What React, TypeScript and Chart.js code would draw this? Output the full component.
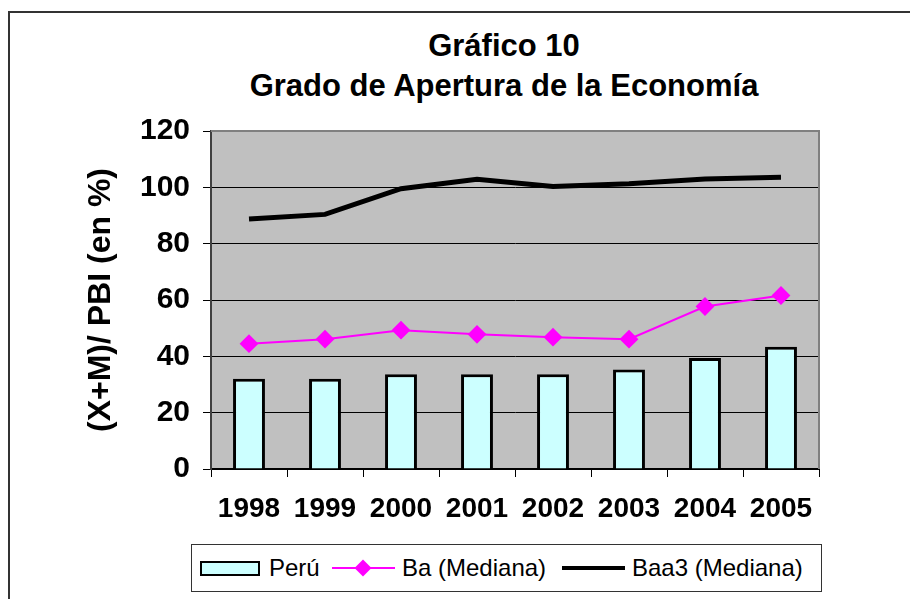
import React, { useEffect, useRef } from "react";
import { Chart, registerables } from "chart.js";

Chart.register(...registerables);

const categories = ["1998", "1999", "2000", "2001", "2002", "2003", "2004", "2005"];
const peru = [32.0, 32.0, 33.6, 33.6, 33.6, 35.3, 39.4, 43.4];
const baMediana = [44.5, 46.1, 49.3, 47.8, 46.8, 46.1, 57.7, 61.6];
const baa3Mediana = [88.8, 90.4, 99.5, 102.9, 100.3, 101.3, 103.0, 103.6];
const yTicks = [0, 20, 40, 60, 80, 100, 120];

const titleLines = ["Gráfico 10", "Grado de Apertura de la Economía"];
const yTitle = "(X+M)/ PBI (en %)";
const seriesNames = ["Perú", "Ba (Mediana)", "Baa3 (Mediana)"];

const FONT = '"Liberation Sans", Arial, Helvetica, sans-serif';

const plotBg = {
  id: "plotBg",
  beforeDraw(chart: any) {
    const { ctx, chartArea: a } = chart;
    ctx.save();
    ctx.fillStyle = "#C0C0C0";
    ctx.fillRect(a.left, a.top, a.right - a.left, a.bottom - a.top);
    ctx.restore();
  },
  afterDraw(chart: any) {
    const { ctx, chartArea: a } = chart;
    ctx.save();
    ctx.strokeStyle = "#808080";
    ctx.lineWidth = 2;
    ctx.beginPath();
    ctx.moveTo(a.left, a.top);
    ctx.lineTo(a.right, a.top);
    ctx.lineTo(a.right, a.bottom);
    ctx.stroke();
    ctx.restore();
  },
};

export default function App() {
  const ref = useRef<HTMLCanvasElement | null>(null);

  useEffect(() => {
    if (!ref.current) return;
    const chart = new Chart(ref.current, {
      type: "bar",
      data: {
        labels: categories,
        datasets: [
          {
            type: "line",
            label: seriesNames[2],
            data: baa3Mediana,
            borderColor: "#000000",
            borderWidth: 5,
            pointRadius: 0,
            tension: 0,
            order: 0,
          } as any,
          {
            type: "line",
            label: seriesNames[1],
            data: baMediana,
            borderColor: "#FF00FF",
            backgroundColor: "#FF00FF",
            borderWidth: 2,
            pointStyle: "rectRot",
            pointRadius: 8,
            pointBackgroundColor: "#FF00FF",
            pointBorderColor: "#FF00FF",
            tension: 0,
            order: 1,
          } as any,
          {
            type: "bar",
            label: seriesNames[0],
            data: peru,
            backgroundColor: "#CCFFFF",
            borderColor: "#000000",
            borderWidth: 3,
            barPercentage: 0.42,
            categoryPercentage: 1,
            order: 2,
          },
        ],
      },
      options: {
        animation: false,
        responsive: true,
        maintainAspectRatio: false,
        layout: { padding: { top: 131, right: 91, left: 0, bottom: 0 } },
        plugins: {
          legend: { display: false },
          title: { display: false },
          tooltip: { enabled: false },
        },
        scales: {
          x: {
            afterFit: (s: any) => {
              s.height = 130;
            },
            grid: {
              offset: true,
              drawOnChartArea: false,
              drawTicks: true,
              tickLength: 8,
              tickColor: "#000",
              color: "#000",
            },
            border: { color: "#000", width: 2 },
            ticks: {
              color: "#000",
              padding: 15,
              font: { family: FONT, size: 28, weight: "bold" },
              maxRotation: 0,
            },
          },
          y: {
            min: 0,
            max: 120,
            afterFit: (s: any) => {
              s.width = 211;
            },
            afterBuildTicks: (s: any) => {
              s.ticks = yTicks.map((v) => ({ value: v }));
            },
            grid: {
              color: "#000",
              lineWidth: 1,
              tickLength: 8,
              tickColor: "#000",
            },
            border: { color: "#404040", width: 2 },
            ticks: {
              color: "#000",
              padding: 13,
              font: { family: FONT, size: 30, weight: "bold" },
            },
            title: {
              display: true,
              text: yTitle,
              color: "#000",
              font: { family: FONT, size: 32, weight: "bold" },
              padding: { top: 82, bottom: 0 },
            },
          },
        },
      },
      plugins: [plotBg],
    });
    return () => chart.destroy();
  }, []);

  const legendText: React.CSSProperties = {
    position: "absolute",
    top: 554,
    height: 28,
    lineHeight: "28px",
    fontFamily: FONT,
    fontSize: 24,
    color: "#000",
    whiteSpace: "nowrap",
  };

  return (
    <div
      style={{
        position: "fixed",
        left: 0,
        top: 0,
        width: 910,
        height: 599,
        background: "#fff",
        overflow: "hidden",
      }}
    >
      <div
        style={{
          position: "absolute",
          left: 8,
          top: 11,
          width: 1000,
          height: 700,
          borderLeft: "2px solid #333",
          borderTop: "2px solid #333",
        }}
      />
      {titleLines.map((t, i) => (
        <div
          key={i}
          style={{
            position: "absolute",
            left: 0,
            width: 1008,
            top: 26 + i * 40,
            height: 40,
            lineHeight: "40px",
            textAlign: "center",
            fontFamily: FONT,
            fontWeight: "bold",
            fontSize: 31,
            color: "#000",
            whiteSpace: "nowrap",
          }}
        >
          {t}
        </div>
      ))}
      <div style={{ position: "absolute", left: 0, top: 0, width: 910, height: 599 }}>
        <canvas ref={ref} />
      </div>
      <div
        style={{
          position: "absolute",
          left: 191,
          top: 544,
          width: 631,
          height: 48,
          border: "1px solid #333",
          boxSizing: "border-box",
          background: "#fff",
        }}
      />
      <div
        style={{
          position: "absolute",
          left: 200,
          top: 561,
          width: 60,
          height: 15,
          background: "#CCFFFF",
          border: "2px solid #000",
          boxSizing: "border-box",
        }}
      />
      <div style={{ ...legendText, left: 269 }}>{seriesNames[0]}</div>
      <div
        style={{
          position: "absolute",
          left: 332,
          top: 567,
          width: 63,
          height: 2,
          background: "#FF00FF",
        }}
      />
      <div
        style={{
          position: "absolute",
          left: 357,
          top: 562,
          width: 12,
          height: 12,
          background: "#FF00FF",
          transform: "rotate(45deg)",
        }}
      />
      <div style={{ ...legendText, left: 402 }}>{seriesNames[1]}</div>
      <div
        style={{
          position: "absolute",
          left: 562,
          top: 566,
          width: 63,
          height: 4,
          background: "#000",
        }}
      />
      <div style={{ ...legendText, left: 632 }}>{seriesNames[2]}</div>
    </div>
  );
}
